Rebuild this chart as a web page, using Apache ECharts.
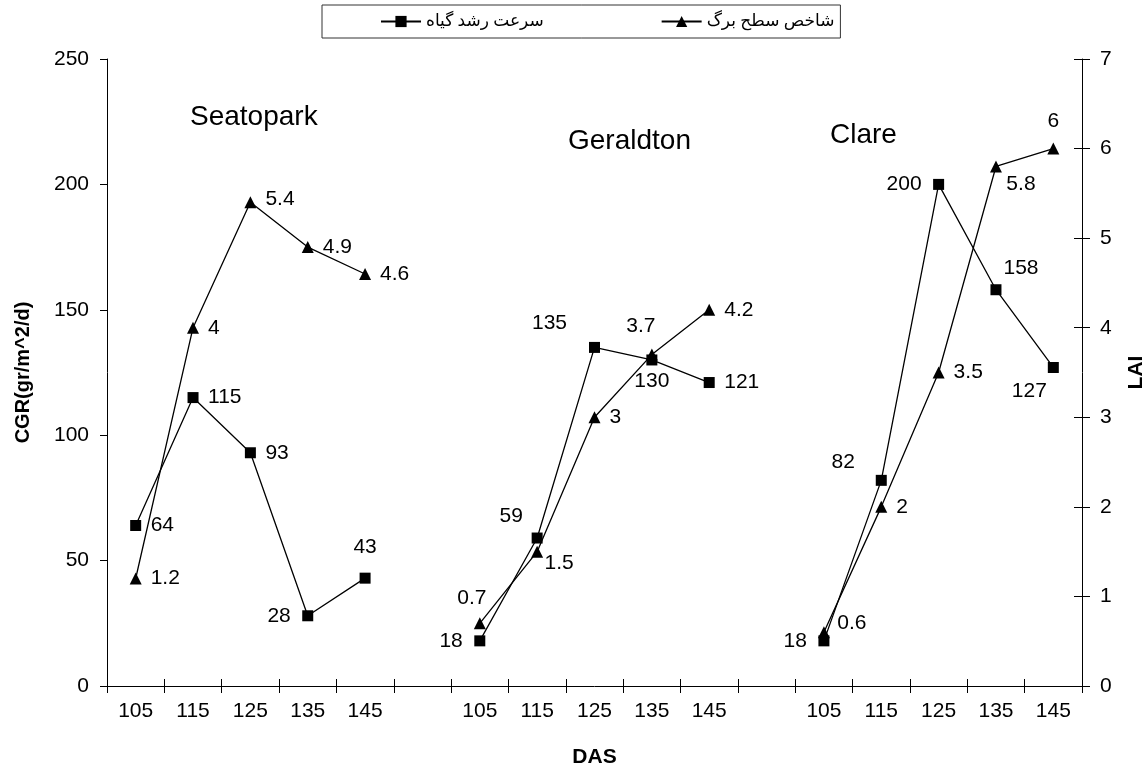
<!DOCTYPE html>
<html>
<head>
<meta charset="utf-8">
<script src="https://cdn.jsdelivr.net/npm/echarts@6/dist/echarts.min.js"></script>
<style>html,body{margin:0;padding:0;background:#fff;}#c{width:1147px;height:770px;}</style>
</head>
<body>
<div id="c"></div>
<script>
// ---- data ----
const categories = ['105','115','125','135','145','','105','115','125','135','145','','105','115','125','135','145'];
const siteNames = ['Seatopark', 'Geraldton', 'Clare'];
const cgrSeatopark = [64, 115, 93, 28, 43];
const cgrGeraldton = [18, 59, 135, 130, 121];
const cgrClare = [18, 82, 200, 158, 127];
const laiSeatopark = [1.2, 4, 5.4, 4.9, 4.6];
const laiGeraldton = [0.7, 1.5, 3, 3.7, 4.2];
const laiClare = [0.6, 2, 3.5, 5.8, 6];
const cgrTicks = [0, 50, 100, 150, 200, 250];
const laiTicks = [0, 1, 2, 3, 4, 5, 6, 7];
const seriesNames = ['سرعت رشد گیاه', 'شاخص سطح برگ'];
const xName = 'DAS', yLeftName = 'CGR(gr/m^2/d)', yRightName = 'LAI';

// ---- label placement (style only) ----
const cgrPlace = ['R','R','R','L',[0,-31], null, 'L',[-26,-22],[-45,-24],[0,21],'R', null, 'L',[-38,-18],'L',[25,-22],[-24,24]];
const laiPlace = ['R','R',[0,-3,'R'],'R','R', null, [-8,-25],[22,12],'R',[-11,-28],'R', null, [28,-9],'R','R',[25,18],[0,-27]];

function joinGroups(a, b, c) { return [...a, null, ...b, null, ...c]; }
function buildData(values, places) {
  return values.map((v, i) => {
    if (v === null) return null;
    const p = places[i];
    let label;
    if (p === 'R') label = { align: 'left', offset: [15, 0] };
    else if (p === 'L') label = { align: 'right', offset: [-17, 0] };
    else if (Array.isArray(p) && p[2] === 'R') label = { align: 'left', offset: [15, p[1]] };
    else label = { align: 'center', offset: [p[0], p[1]] };
    return { value: v, label: label };
  });
}
const cgrData = buildData(joinGroups(cgrSeatopark, cgrGeraldton, cgrClare), cgrPlace);
const laiData = buildData(joinGroups(laiSeatopark, laiGeraldton, laiClare), laiPlace);

const FONT = '"Liberation Sans", Arial, sans-serif';
const FS = 21;
const labelBase = { show: true, position: 'inside', color: '#000', fontFamily: FONT, fontSize: FS, verticalAlign: 'middle' };
const titleStyle = { fontFamily: FONT, fontSize: 28, fontWeight: 'normal', color: '#000' };

const chart = echarts.init(document.getElementById('c'), null, { renderer: 'canvas' });
chart.setOption({
  backgroundColor: '#fff',
  animation: false,
  title: [
    { text: siteNames[0], left: 190, top: 103, padding: 0, textStyle: titleStyle },
    { text: siteNames[1], left: 568, top: 127, padding: 0, textStyle: titleStyle },
    { text: siteNames[2], left: 830, top: 121, padding: 0, textStyle: titleStyle }
  ],
  legend: {
    data: seriesNames,
    left: 322, top: 5,
    padding: [8, 6, 8, 58],
    itemGap: 117,
    itemWidth: 40, itemHeight: 14,
    borderColor: '#333', borderWidth: 1,
    textStyle: { fontFamily: '"Liberation Serif", "DejaVu Sans", serif', fontSize: 17, color: '#000' }
  },
  grid: { left: 107, right: 65, top: 59, bottom: 84, containLabel: false, outerBoundsMode: 'none' },
  xAxis: [{
    type: 'category', data: categories, boundaryGap: true,
    name: xName, nameLocation: 'middle', nameGap: 61,
    nameTextStyle: { fontFamily: FONT, fontSize: FS, fontWeight: 'bold', color: '#000' },
    axisLine: { lineStyle: { color: '#000', width: 1 } },
    axisTick: { show: true, length: 7, interval: 0, lineStyle: { color: '#000' } },
    axisLabel: { interval: 0, margin: 15, fontFamily: FONT, fontSize: FS, color: '#000' },
    splitLine: { show: false }
  }, {
    type: 'category', data: categories, boundaryGap: true, position: 'bottom',
    axisLine: { show: false },
    axisTick: { show: true, inside: true, length: 7, interval: 0, lineStyle: { color: '#000' } },
    axisLabel: { show: false }, splitLine: { show: false }
  }],
  yAxis: [{
    type: 'value', min: 0, max: 250, interval: 50, position: 'left',
    name: yLeftName, nameLocation: 'middle', nameGap: 74,
    nameTextStyle: { fontFamily: FONT, fontSize: 20, fontWeight: 'bold', color: '#000' },
    axisLine: { show: true, lineStyle: { color: '#000', width: 1 } },
    axisTick: { show: true, length: 7, lineStyle: { color: '#000' } },
    axisLabel: { margin: 18, fontFamily: FONT, fontSize: FS, color: '#000',
      formatter: v => cgrTicks.includes(v) ? String(v) : '' },
    splitLine: { show: false }
  }, {
    type: 'value', min: 0, max: 7, interval: 1, position: 'right',
    name: yRightName, nameLocation: 'middle', nameGap: 44,
    nameTextStyle: { fontFamily: FONT, fontSize: FS, fontWeight: 'bold', color: '#000' },
    axisLine: { show: true, lineStyle: { color: '#000', width: 1 } },
    axisTick: { show: true, length: 8, lineStyle: { color: '#000' } },
    axisLabel: { margin: 18, fontFamily: FONT, fontSize: FS, color: '#000',
      formatter: v => laiTicks.includes(v) ? String(v) : '' },
    splitLine: { show: false }
  }, {
    type: 'value', min: 0, max: 7, interval: 1, position: 'right',
    axisLine: { show: false },
    axisTick: { show: true, inside: true, length: 8, lineStyle: { color: '#000' } },
    axisLabel: { show: false }, splitLine: { show: false }
  }],
  series: [{
    name: seriesNames[1], type: 'line', xAxisIndex: 0, yAxisIndex: 1,
    data: laiData, connectNulls: false,
    symbol: 'triangle', symbolSize: 12,
    itemStyle: { color: '#000' },
    lineStyle: { color: '#000', width: 1.3 },
    label: labelBase, z: 2
  }, {
    name: seriesNames[0], type: 'line', xAxisIndex: 0, yAxisIndex: 0,
    data: cgrData, connectNulls: false,
    symbol: 'rect', symbolSize: 11,
    itemStyle: { color: '#000' },
    lineStyle: { color: '#000', width: 1.3 },
    label: labelBase, z: 3
  }]
});
</script>
</body>
</html>
